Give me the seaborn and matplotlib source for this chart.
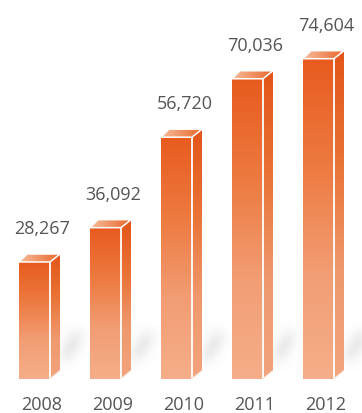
import numpy as np
import pandas as pd
import seaborn as sns
import matplotlib.pyplot as plt
from matplotlib.patches import Polygon
from matplotlib.colors import LinearSegmentedColormap
from matplotlib.transforms import ScaledTranslation

# Chart data
years = ["2008", "2009", "2010", "2011", "2012"]
values = [28267, 36092, 56720, 70036, 74604]
value_labels = ["28,267", "36,092", "56,720", "70,036", "74,604"]

sns.set_theme(style="white")
plt.rcParams["font.family"] = ["Open Sans", "DejaVu Sans"]

TEXT = "#545557"
DPI = 100
W_PX, H_PX = 362, 414
BASE_PX = 379.5          # visible floor of the bars (pixels from top)

fig = plt.figure(figsize=(W_PX / DPI, H_PX / DPI), dpi=DPI)
fig.patch.set_facecolor("white")
ax = fig.add_axes([0, (H_PX - BASE_PX) / H_PX, 1, BASE_PX / H_PX])

df = pd.DataFrame({"year": years, "value": values})
sns.barplot(data=df, x="year", y="value", ax=ax, width=0.437,
            color="#ec6a2e", saturation=1, errorbar=None)

ax.set_xlim(-0.486, 4.613)
ax.set_ylim(1710, 88215)
ax.set_axis_off()

# pixel -> data conversions for the extruded depth of each bar
fig.canvas.draw()
o = ax.transData.transform((0, 0))
px_per_x = ax.transData.transform((1, 0))[0] - o[0]
px_per_y = (ax.transData.transform((0, 1000))[1] - o[1]) / 1000
DEPTH_X = 10 / px_per_x
DEPTH_Y = 8 / px_per_y

front_cmap = LinearSegmentedColormap.from_list(
    "front", ["#e85b1f", "#ed7a40", "#f29d74", "#f5ae89"])
side_cmap = LinearSegmentedColormap.from_list(
    "side", ["#e3551a", "#e97234", "#ef986d", "#f2a47d"])
top_cmap = LinearSegmentedColormap.from_list(
    "top", ["#f7bb98", "#f09263", "#e9652a"])

base = ax.get_ylim()[0]
grad_v = np.linspace(0, 1, 256).reshape(-1, 1)
grad_h = np.linspace(0, 1, 256).reshape(1, -1)

# soft diagonal floor shadow, built on a small pixel grid
SH_W, SH_H = 30, 60
uu, vv = np.meshgrid(np.linspace(0, SH_W, 60), np.linspace(SH_H, 0, 120))
p0 = np.array([-2.0, 10.0])
p1 = np.array([24.0, 56.0])
dvec = (p1 - p0) / np.linalg.norm(p1 - p0)
rel_u, rel_v = uu - p0[0], vv - p0[1]
t = (rel_u * dvec[0] + rel_v * dvec[1]) / np.linalg.norm(p1 - p0)
dist = rel_u * dvec[1] - rel_v * dvec[0]
along = np.clip(np.sin(np.pi * np.clip(t, 0, 1)), 0, 1) ** 1.5
shade = np.zeros(uu.shape + (4,))
shade[..., :3] = 0.80
shade[..., 3] = 0.40 * np.exp(-dist ** 2 / (2 * 6.5 ** 2)) * along

for patch in list(ax.patches):
    x0 = patch.get_x()
    x1 = x0 + patch.get_width()
    top = patch.get_y() + patch.get_height()
    patch.set_facecolor("none")
    patch.set_edgecolor("none")

    xr = x1 + DEPTH_X
    ax.imshow(shade, extent=[xr, xr + SH_W / px_per_x,
                             base, base + SH_H / px_per_y],
              aspect="auto", origin="upper", zorder=0.5,
              interpolation="bilinear")

    # front face
    ax.imshow(grad_v, cmap=front_cmap, extent=[x0, x1, base, top],
              aspect="auto", origin="upper", zorder=1,
              interpolation="bilinear")

    # side face
    side = Polygon([(x1, base), (x1, top), (x1 + DEPTH_X, top + DEPTH_Y),
                    (x1 + DEPTH_X, base + DEPTH_Y)],
                   closed=True, facecolor="none", edgecolor="none")
    ax.add_patch(side)
    im = ax.imshow(grad_v, cmap=side_cmap,
                   extent=[x1, x1 + DEPTH_X, base, top + DEPTH_Y],
                   aspect="auto", origin="upper", zorder=1,
                   interpolation="bilinear")
    im.set_clip_path(side)

    # top face
    lid = Polygon([(x0, top), (x1, top), (x1 + DEPTH_X, top + DEPTH_Y),
                   (x0 + DEPTH_X * 0.8, top + DEPTH_Y)],
                  closed=True, facecolor="none", edgecolor="white",
                  linewidth=1.1, zorder=3)
    ax.add_patch(lid)
    im = ax.imshow(grad_h, cmap=top_cmap,
                   extent=[x0, x1 + DEPTH_X, top, top + DEPTH_Y],
                   aspect="auto", origin="upper", zorder=1,
                   interpolation="bilinear")
    im.set_clip_path(lid)

    # white seams between the faces
    ax.plot([x1, x1], [base, top], color="white", lw=1.3, zorder=3,
            solid_capstyle="butt")
    ax.plot([x1, x1 + DEPTH_X], [base, base + DEPTH_Y], color="#fbe3d6",
            lw=0.8, zorder=3)

ax.set_xlim(-0.486, 4.613)
ax.set_ylim(1710, 88215)

# value labels above each bar
for i, (v, lab) in enumerate(zip(values, value_labels)):
    ax.annotate(lab, xy=(i, v), xytext=(8, 29), textcoords="offset pixels",
                ha="center", va="baseline", fontsize=13, color=TEXT,
                annotation_clip=False)

# category labels under the bars
shift = ScaledTranslation(7.5 / DPI, -30.5 / DPI, fig.dpi_scale_trans)
for i, yr in enumerate(years):
    ax.text(i, 0, yr, transform=ax.get_xaxis_transform() + shift,
            ha="center", va="baseline", fontsize=13, color=TEXT)

fig.savefig("out.png", dpi=DPI, facecolor="white")
